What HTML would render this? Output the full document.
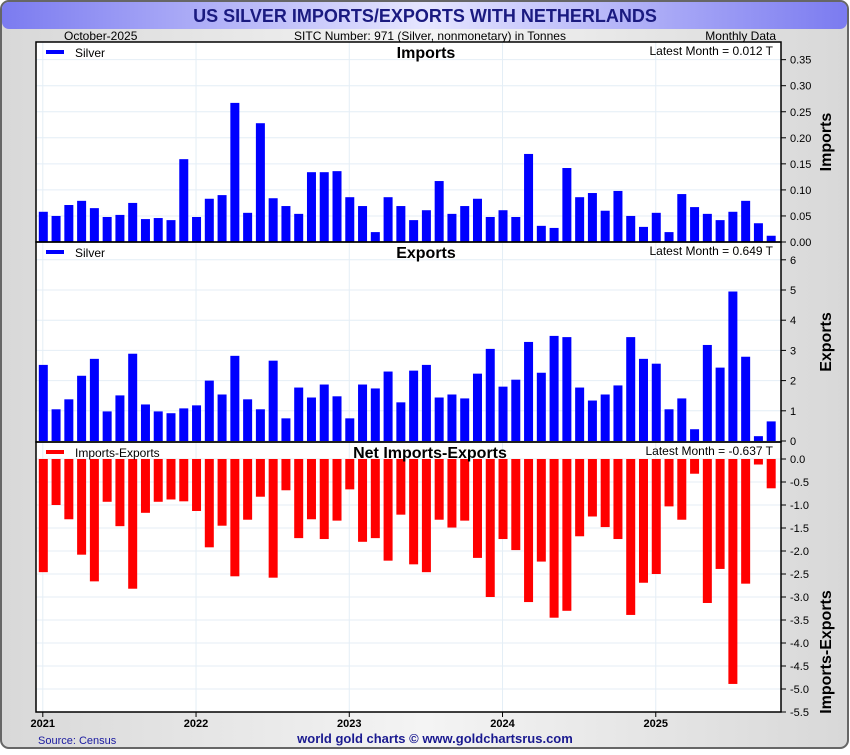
<!DOCTYPE html>
<html><head><meta charset="utf-8"><style>
body{margin:0;width:850px;height:750px;overflow:hidden;font-family:"Liberation Sans",sans-serif;}
</style></head><body>
<svg id="chart" width="850" height="750" xmlns="http://www.w3.org/2000/svg" font-family="Liberation Sans, sans-serif">
<defs>
<linearGradient id="bg" x1="0" y1="0" x2="1" y2="0"><stop offset="0" stop-color="#d8d8d8"/><stop offset="0.5" stop-color="#f4f4f4"/><stop offset="1" stop-color="#d8d8d8"/></linearGradient>
<linearGradient id="tb" x1="0" y1="0" x2="1" y2="0"><stop offset="0" stop-color="#7b7bf0"/><stop offset="0.5" stop-color="#e6e6ff"/><stop offset="1" stop-color="#7b7bf0"/></linearGradient>
</defs>
<rect x="1" y="1" width="847" height="747" rx="8" fill="url(#bg)" stroke="#666" stroke-width="2"/>
<rect x="2" y="2" width="845" height="27" rx="7" fill="url(#tb)"/>
<text x="425" y="22" text-anchor="middle" font-size="18" font-weight="bold" fill="#1a1a80">US SILVER IMPORTS/EXPORTS WITH NETHERLANDS</text>
<text x="64" y="40" font-size="12" fill="#000">October-2025</text>
<text x="430" y="40" text-anchor="middle" font-size="12" fill="#000">SITC Number: 971 (Silver, nonmonetary) in Tonnes</text>
<text x="776" y="40" text-anchor="end" font-size="12" fill="#000">Monthly Data</text>
<rect x="36" y="42" width="745" height="670" fill="#fff"/>
<g id="grid"></g>
<g id="bars"></g>
<g id="axes"></g>
<text x="38" y="744" font-size="11" fill="#1a1aa0">Source: Census</text>
<text x="435" y="743" text-anchor="middle" font-size="13" font-weight="bold" fill="#1a1a90">world gold charts © www.goldchartsrus.com</text>
</svg>
<script>
const years = ["2021","2022","2023","2024","2025"];
const importValues = [0.058,0.050,0.071,0.079,0.065,0.048,0.052,0.075,0.044,0.046,0.042,0.159,
0.048,0.083,0.090,0.267,0.056,0.228,0.084,0.069,0.054,0.134,0.134,0.136,
0.086,0.069,0.019,0.086,0.069,0.042,0.061,0.117,0.054,0.069,0.083,0.048,
0.061,0.048,0.169,0.031,0.027,0.142,0.086,0.094,0.060,0.098,0.050,0.029,
0.056,0.019,0.092,0.067,0.054,0.042,0.058,0.079,0.036,0.012];
const exportValues = [2.52,1.05,1.38,2.16,2.72,0.98,1.51,2.89,1.21,0.98,0.92,1.08,
1.18,2.00,1.54,2.82,1.38,1.05,2.66,0.75,1.77,1.44,1.87,1.48,
0.75,1.87,1.74,2.30,1.28,2.33,2.52,1.44,1.54,1.41,2.23,3.05,
1.80,2.03,3.28,2.26,3.48,3.44,1.77,1.34,1.54,1.84,3.44,2.72,
2.56,1.05,1.41,0.39,3.18,2.43,4.95,2.79,0.16,0.649];
const netValues = [-2.46,-1.00,-1.31,-2.08,-2.66,-0.93,-1.46,-2.82,-1.17,-0.93,-0.88,-0.92,
-1.13,-1.92,-1.45,-2.55,-1.32,-0.82,-2.58,-0.68,-1.72,-1.31,-1.74,-1.34,
-0.66,-1.80,-1.72,-2.21,-1.21,-2.29,-2.46,-1.32,-1.49,-1.34,-2.15,-3.00,
-1.74,-1.98,-3.11,-2.23,-3.45,-3.30,-1.68,-1.25,-1.48,-1.74,-3.39,-2.69,
-2.50,-1.03,-1.32,-0.32,-3.13,-2.39,-4.89,-2.71,-0.12,-0.637];
const importTicks = ["0.00","0.05","0.10","0.15","0.20","0.25","0.30","0.35"];
const exportTicks = ["0","1","2","3","4","5","6"];
const netTicks = ["0.0","-0.5","-1.0","-1.5","-2.0","-2.5","-3.0","-3.5","-4.0","-4.5","-5.0","-5.5"];

const NS="http://www.w3.org/2000/svg";
function mk(parent,tag,attrs,text){const e=document.createElementNS(NS,tag);for(const k in attrs)e.setAttribute(k,attrs[k]);if(text!==undefined)e.textContent=text;parent.appendChild(e);return e;}
const X0=36,X1=781;
const xMonth=i=>43.3+i*12.77;
const panels=[
 {name:"imports",top:42,bottom:242,y:v=>242-v*521,vals:importValues,ticks:importTicks,color:"#0000ff",title:"Imports",axis:"Imports",legend:"Silver",latest:"Latest Month = 0.012 T"},
 {name:"exports",top:242,bottom:442,y:v=>441-v*30.2,vals:exportValues,ticks:exportTicks,color:"#0000ff",title:"Exports",axis:"Exports",legend:"Silver",latest:"Latest Month = 0.649 T"},
 {name:"net",top:442,bottom:712,y:v=>459-v*(-46),vals:netValues,ticks:netTicks,color:"#ff0000",title:"Net Imports-Exports",axis:"Imports-Exports",legend:"Imports-Exports",latest:"Latest Month = -0.637 T"}
];
panels[2].y=v=>459-v*46;
const grid=document.getElementById('grid'),bars=document.getElementById('bars'),axes=document.getElementById('axes');
years.forEach((yr,k)=>{const x=xMonth(k*12)-0.5;
 const g=mk(grid,'line',{x1:x,x2:x,y1:42,y2:712,stroke:"#e4eef6","stroke-width":1});
 
 
 const t=mk(axes,'line',{x1:x,x2:x,y1:712,y2:717,stroke:"#000"});
 
 
 const l=mk(axes,'text',{x:x,y:727,"text-anchor":"middle","font-size":11,"font-weight":"bold"},yr);
 
 
});
panels.forEach(p=>{
 p.ticks.forEach(t=>{const y=p.y(parseFloat(t));
  const g=mk(grid,'line',{x1:X0,x2:X1,y1:y,y2:y,stroke:"#e4eef6"});
  
  
  const tk=mk(axes,'line',{x1:X1,x2:X1+5,y1:y,y2:y,stroke:"#000"});
  
  
  const l=mk(axes,'text',{x:X1+9,y:y+4,"font-size":11},t);
  
  
 });
 const y0=p.y(0);
 p.vals.forEach((v,i)=>{const yv=p.y(v);
  const b=mk(bars,'rect',{x:xMonth(i)-4.5,y:Math.min(y0,yv),width:9,height:Math.abs(yv-y0),fill:p.color});
  
  
 });
 const fr=mk(axes,'rect',{x:X0,y:p.top,width:X1-X0,height:p.bottom-p.top,fill:"none",stroke:"#000","stroke-width":1.5});
 
 
 const lg=mk(axes,'line',{x1:46,x2:64,y1:p.top+10,y2:p.top+10,stroke:p.color,"stroke-width":4});
 
 
 const lt=mk(axes,'text',{x:75,y:p.top+15,"font-size":12},p.legend);
 
 
 const ti=mk(axes,'text',{x:p.name==="net"?430:426,y:p.top+16,"text-anchor":"middle","font-size":16,"font-weight":"bold"},p.title);
 
 
 const la=mk(axes,'text',{x:773,y:p.top+13,"text-anchor":"end","font-size":12},p.latest);
 
 
 const cy=(p.top+p.bottom)/2+(p.name==="net"?75:0);
 const at=mk(axes,'text',{x:831,y:cy,"text-anchor":"middle","font-size":16,"font-weight":"bold",transform:"rotate(-90 831 "+cy+")"},p.axis);
 
 
});
</script>
</body></html>
